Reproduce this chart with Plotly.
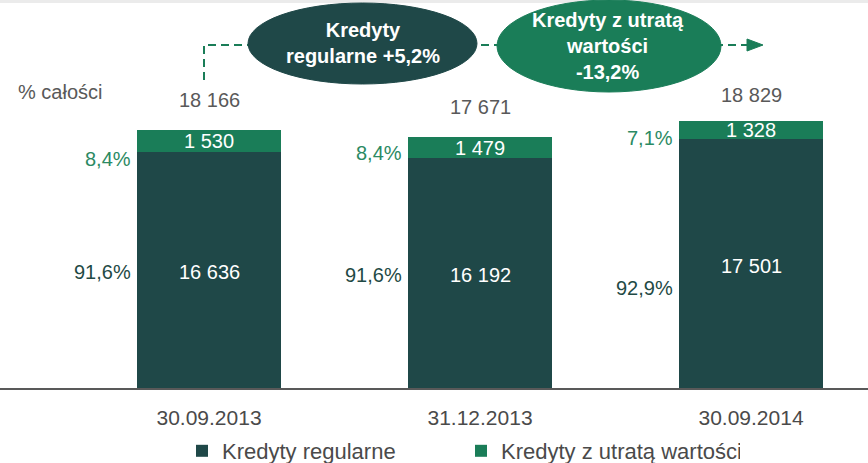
import plotly.graph_objects as go

categories = ["30.09.2013", "31.12.2013", "30.09.2014"]
regular = [16636, 16192, 17501]
impaired = [1530, 1479, 1328]
series_names = ["Kredyty regularne", "Kredyty z utratą wartości"]
bubble_regular = "Kredyty<br>regularne +5,2%"
bubble_impaired = "Kredyty z utratą<br>wartości<br>-13,2%"
unit_label = "% całości"

DARK = "#1F4848"
GREEN = "#1A7D58"
GREEN_TXT = "#2B8A63"
DARK_TXT = "#1F4A45"
GRAY = "#595959"
FONT = "Liberation Sans"

W, H = 868, 463
PLOT_BOTTOM = 388  # pixel of baseline


def fmt(v):
    return f"{v:,}".replace(",", " ")


def pct(v):
    return f"{v:.1f}".replace(".", ",") + "%"


totals = [a + b for a, b in zip(regular, impaired)]
x = list(range(len(categories)))
bw = 0.531

fig = go.Figure()
fig.add_bar(x=x, y=regular, name=series_names[0], marker_color=DARK, width=bw,
            marker_line_width=0, hoverinfo="skip")
fig.add_bar(x=x, y=impaired, name=series_names[1], marker_color=GREEN, width=bw,
            marker_line_width=0, hoverinfo="skip")

ann = []
tot_shift = [30, 30, 26]
g_shift = [-18, -5, -8]
d_shift = [-2, -2, -24]
for i in x:
    ann.append(dict(x=i, y=totals[i], text=fmt(totals[i]), showarrow=False,
                    xanchor="center", yanchor="middle",
                    yshift=tot_shift[i], font=dict(size=20, color=GRAY, family=FONT)))
    ann.append(dict(x=i, y=regular[i] + impaired[i] / 2, text=fmt(impaired[i]),
                    xanchor="center", yanchor="middle",
                    showarrow=False, font=dict(size=20, color="white", family=FONT)))
    ann.append(dict(x=i, y=regular[i] / 2, text=fmt(regular[i]), yshift=-2,
                    xanchor="center", yanchor="middle",
                    showarrow=False, font=dict(size=20, color="white", family=FONT)))
    ann.append(dict(x=i - bw / 2, y=regular[i] + impaired[i] / 2, xanchor="right",
                    yanchor="middle",
                    xshift=-4, yshift=g_shift[i], showarrow=False,
                    text=pct(impaired[i] / totals[i] * 100),
                    font=dict(size=20, color=GREEN_TXT, family=FONT)))
    ann.append(dict(x=i - bw / 2, y=regular[i] / 2, xanchor="right",
                    yanchor="middle",
                    xshift=-4, yshift=d_shift[i], showarrow=False,
                    text=pct(regular[i] / totals[i] * 100),
                    font=dict(size=20, color=DARK_TXT, family=FONT)))


def px(p):
    return p / W


def py(p):
    return (PLOT_BOTTOM - p) / PLOT_BOTTOM


ann.append(dict(xref="paper", yref="paper", x=px(16), y=py(92), xanchor="left",
                yanchor="middle", text=unit_label, showarrow=False,
                font=dict(size=20, color=GRAY, family=FONT)))
ann.append(dict(xref="paper", yref="paper", x=px(363), y=py(43), xanchor="center",
                yanchor="middle", text="<b>" + bubble_regular + "</b>",
                showarrow=False, font=dict(size=20, color="white", family=FONT)))
ann.append(dict(xref="paper", yref="paper", x=px(608), y=py(46), xanchor="center",
                yanchor="middle", text="<b>" + bubble_impaired + "</b>",
                showarrow=False, font=dict(size=20, color="white", family=FONT)))

shapes = [
    dict(type="rect", xref="paper", yref="paper", x0=0, x1=1, y0=py(3), y1=1,
         fillcolor="#ebebeb", line=dict(width=0), layer="below"),
    dict(type="path", xref="paper", yref="paper",
         path=f"M {px(204)},{py(80)} L {px(204)},{py(45)} L {px(748)},{py(45)}",
         line=dict(color=GREEN, width=2, dash="8px,5px")),
    dict(type="path", xref="paper", yref="paper",
         path=f"M {px(747)},{py(39)} L {px(763)},{py(45)} L {px(747)},{py(51)} Z",
         fillcolor=GREEN, line=dict(color=GREEN, width=1)),
    dict(type="circle", xref="paper", yref="paper", x0=px(248), x1=px(477), y0=py(84), y1=py(3),
         fillcolor=DARK, line=dict(color=DARK, width=1)),
    dict(type="circle", xref="paper", yref="paper", x0=px(497), x1=px(721), y0=py(92), y1=py(0),
         fillcolor=GREEN, line=dict(color=GREEN, width=1)),
]

fig.update_layout(
    width=W, height=H, barmode="stack",
    margin=dict(l=0, r=0, t=0, b=H - PLOT_BOTTOM, autoexpand=False),
    plot_bgcolor="white", paper_bgcolor="white",
    xaxis=dict(range=[-209 / 271, (W - 209) / 271], tickvals=x, ticktext=categories,
               showline=True, linecolor=GRAY, linewidth=2, showgrid=False, zeroline=False,
               ticks="", ticklabelstandoff=10,
               tickfont=dict(size=21, color="#4a4a4a", family=FONT)),
    yaxis=dict(range=[0, 27324], visible=False, showgrid=False, fixedrange=True),
    showlegend=True,
    legend=dict(orientation="h", x=182 / W, xanchor="left", y=py(451), yanchor="middle",
                font=dict(size=22, color="#4a4a4a", family=FONT),
                entrywidth=234, itemwidth=30, traceorder="normal",
                bgcolor="rgba(0,0,0,0)"),
    annotations=ann, shapes=shapes,
)

fig.write_html("out.html", config={"displayModeBar": False},
               post_script="document.body.style.margin='0';document.body.style.overflow='hidden';")
